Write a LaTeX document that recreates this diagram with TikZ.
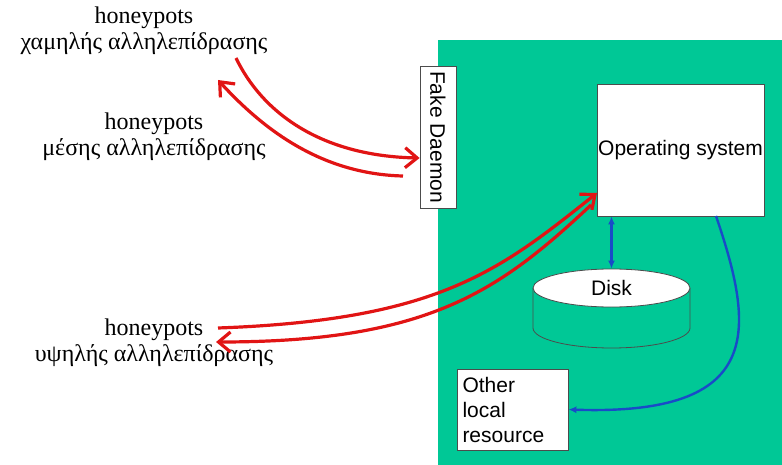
\documentclass[tikz,border=0pt]{standalone}
\usepackage{fontspec}
\setmainfont{Liberation Serif}
\setsansfont{Liberation Sans}
\usetikzlibrary{arrows.meta,shapes.geometric}
\definecolor{hpgreen}{RGB}{0,200,150}
\definecolor{hpred}{RGB}{225,20,20}
\definecolor{hpblue}{RGB}{25,75,200}
\begin{document}
\begin{tikzpicture}[x=0.5pt,y=-0.5pt]
			\tikzset{lbl/.style={align=center,font=\fontsize{12}{13}\selectfont,inner sep=0pt},
				sflbl/.style={font=\sffamily\fontsize{10.5}{12.5}\selectfont},
				box/.style={draw=black!70,fill=white,sflbl,inner sep=1pt},
				redarr/.style={hpred,line width=1.6pt,-{Straight Barb[length=6pt,width=10pt,line width=1.6pt]}},
				bluearr/.style={hpblue,line width=1.2pt}}
			\useasboundingbox (0,0) rectangle (782,465);
			\fill[hpgreen] (438,40) rectangle (782,465);
			\node[lbl] (low) at (144,31) {honeypots\\χαμηλής αλληλεπίδρασης};
			\node[lbl] (mid) at (154,137) {honeypots\\μέσης αλληλεπίδρασης};
			\node[lbl] (high) at (154,343) {honeypots\\υψηλής αλληλεπίδρασης};
			\node[box,minimum width=18pt,minimum height=71pt] (fake) at (438,137) {};
			\node[sflbl,rotate=-90] (fakelbl) at (fake) {Fake Daemon};
			\node[box,minimum width=83.5pt,minimum height=66pt,inner sep=0pt] (os) at (680.5,150) {Operating system};
			\draw[draw=black!70,fill=hpgreen] (533,288) -- (533,328) arc[start angle=180,end angle=360,x radius=39.25pt,y radius=10pt] -- (690,288);
			\node[ellipse,draw=black!70,fill=white,minimum width=78.5pt,minimum height=19pt,inner sep=0pt,sflbl] (disk) at (611.5,288) {Disk};
			\node[box,minimum width=55.5pt,minimum height=40.5pt,align=left,text width=50pt] (other) at (512.5,409.5) {Other\\local\\resource};
			\coordinate (a1) at (236,58);
			\coordinate (a2) at (403,176);
			\coordinate (a2e) at (218,80);
			\coordinate (a3) at (218,328);
			\coordinate (a4e) at (216,342);
			\coordinate (osin) at (597,193);
			\coordinate (osout) at (591,205);
			\draw[redarr] (a1) .. controls (262,112) and (320,156) .. (fake.west |- 0,158);
			\draw[redarr] (a2) .. controls (320,174) and (262,128) .. (a2e);
			\draw[redarr] (a3) .. controls (440,320) and (500,270) .. (osin);
			\draw[redarr] (osout) .. controls (500,290) and (430,342) .. (a4e);
			\draw[bluearr,{Latex[length=4pt,width=3.5pt]}-{Latex[length=4pt,width=3.5pt]}] (disk.north) -- (disk.north |- os.south);
			\draw[bluearr,-{Latex[length=4pt,width=3.5pt]}] (716,216) .. controls (755,330) and (765,416) .. (other.east);
		\end{tikzpicture}
\end{document}
